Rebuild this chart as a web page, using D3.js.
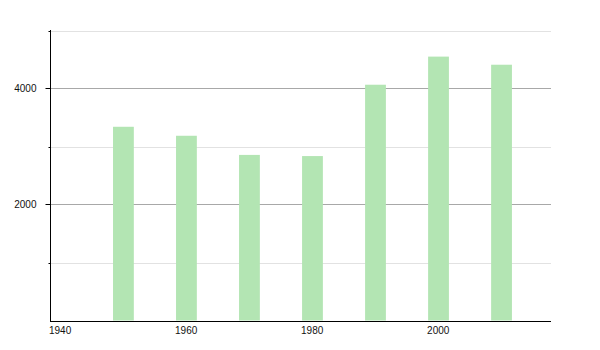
<!DOCTYPE html>
<html>
<head>
<meta charset="utf-8">
<script src="https://cdn.jsdelivr.net/npm/d3@7"></script>
<style>
  body { margin: 0; background: #fff; }
  text { font-family: "Liberation Sans", Arial, sans-serif; font-size: 10px; fill: #111; }
</style>
</head>
<body>
<div id="chart"></div>
<script>
const years = [1950, 1960, 1970, 1980, 1990, 2000, 2010];
const population = [3340, 3185, 2855, 2835, 4065, 4550, 4410];
const xTicks = [1940, 1960, 1980, 2000];
const majorY = [2000, 4000];
const minorY = [1000, 3000, 5000];

const width = 600, height = 350;
const margin = { top: 30, right: 49, bottom: 30, left: 50 };

const svg = d3.select("#chart")
  .append("svg")
  .attr("width", width)
  .attr("height", height);

const x = d3.scaleLinear()
  .domain([1940, 2019.5])
  .range([margin.left, width - margin.right]);

const y = d3.scaleLinear()
  .domain([0, 5000])
  .range([height - margin.bottom + 0.5, margin.top + 0.5]);

// gridlines
svg.append("g")
  .selectAll("line")
  .data(minorY)
  .join("line")
  .attr("x1", margin.left)
  .attr("x2", width - margin.right)
  .attr("y1", d => Math.round(y(d)) + 0.5)
  .attr("y2", d => Math.round(y(d)) + 0.5)
  .attr("stroke", "#e2e2e2");

svg.append("g")
  .selectAll("line")
  .data(majorY)
  .join("line")
  .attr("x1", margin.left)
  .attr("x2", width - margin.right)
  .attr("y1", d => Math.round(y(d)) + 0.5)
  .attr("y2", d => Math.round(y(d)) + 0.5)
  .attr("stroke", "#a8a8a8");

// bars
const barW = x(1953.3) - x(1950);
svg.selectAll(".bar")
  .data(population)
  .join("rect")
  .attr("class", "bar")
  .attr("x", (d, i) => x(years[i]))
  .attr("y", d => y(d))
  .attr("width", barW)
  .attr("height", d => y(0) - y(d))
  .attr("fill", "#b3e5b3");

// y axis
const yAxis = svg.append("g")
  .attr("transform", `translate(${margin.left + 0.5},0)`);
yAxis.append("line")
  .attr("y1", y(5000) - 0.5)
  .attr("y2", y(0) + 0.5)
  .attr("stroke", "#000");
yAxis.selectAll(".maj")
  .data(majorY)
  .join("line")
  .attr("x1", -5).attr("x2", 0)
  .attr("y1", d => Math.round(y(d)) + 0.5)
  .attr("y2", d => Math.round(y(d)) + 0.5)
  .attr("stroke", "#000");
yAxis.selectAll(".min")
  .data(minorY)
  .join("line")
  .attr("x1", -2).attr("x2", 0)
  .attr("y1", d => Math.round(y(d)) + 0.5)
  .attr("y2", d => Math.round(y(d)) + 0.5)
  .attr("stroke", "#000");
yAxis.selectAll("text")
  .data(majorY)
  .join("text")
  .attr("x", -14)
  .attr("y", d => y(d))
  .attr("dy", "0.35em")
  .attr("text-anchor", "end")
  .text(d => d);

// x axis
const xAxis = svg.append("g")
  .attr("transform", `translate(0,${Math.round(y(0)) + 0.5})`);
xAxis.append("line")
  .attr("x1", margin.left)
  .attr("x2", width - margin.right)
  .attr("stroke", "#000");
xAxis.selectAll("text")
  .data(xTicks)
  .join("text")
  .attr("x", d => x(d) - 1)
  .attr("y", 12.5)
  .attr("text-anchor", "start")
  .text(d => d);
</script>
</body>
</html>
